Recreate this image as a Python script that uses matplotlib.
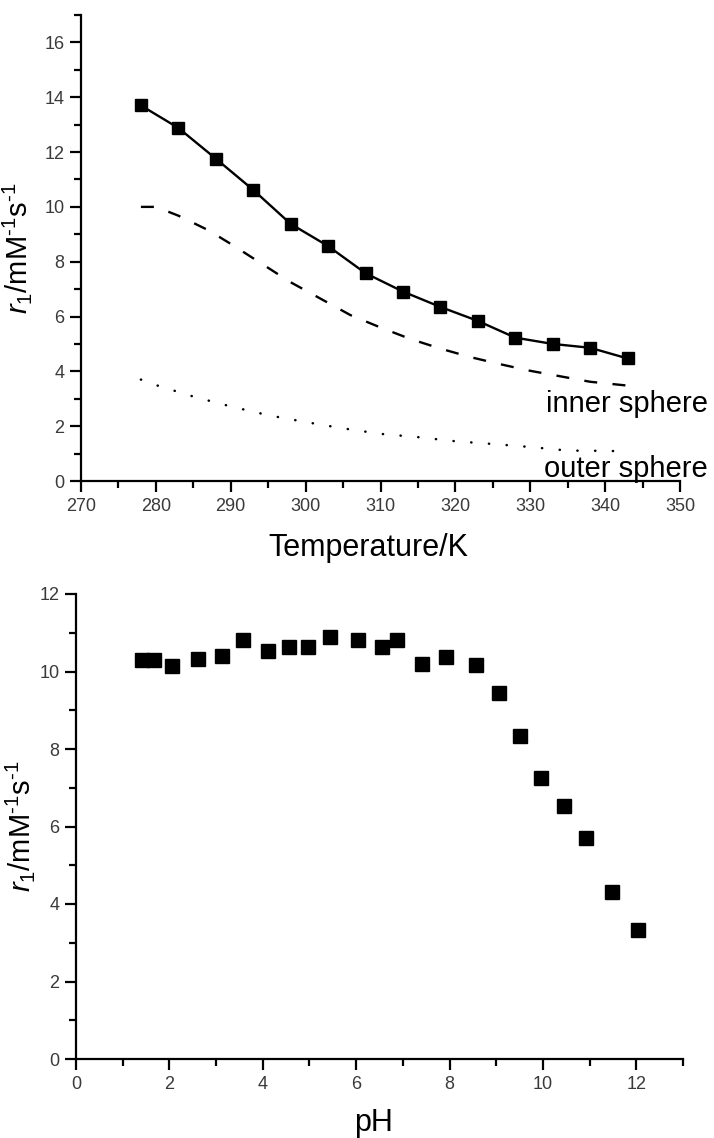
import matplotlib
matplotlib.use("Agg")
import matplotlib.pyplot as plt
from matplotlib.ticker import MultipleLocator

# ---------------- data ----------------
temp_K = [278, 283, 288, 293, 298, 303, 308, 313, 318, 323, 328, 333, 338, 343]
r1_total = [13.7, 12.88, 11.76, 10.62, 9.38, 8.57, 7.58, 6.91, 6.35, 5.84, 5.23, 5.0, 4.86, 4.47]

inner_T = [278, 280, 283, 287, 290, 294, 298, 302, 306, 310, 314, 318, 322, 326, 330, 334, 338, 343]
inner_r1 = [10.0, 10.0, 9.68, 9.15, 8.65, 7.95, 7.25, 6.65, 6.05, 5.6, 5.18, 4.83, 4.52, 4.26, 4.02, 3.82, 3.62, 3.48]

outer_T = [278, 280, 285, 290, 295, 300, 305, 310, 315, 320, 325, 330, 335, 340, 343]
outer_r1 = [3.7, 3.5, 3.08, 2.72, 2.4, 2.15, 1.92, 1.72, 1.6, 1.45, 1.35, 1.24, 1.11, 1.1, 1.08]

pH = [1.41, 1.66, 2.05, 2.62, 3.12, 3.57, 4.12, 4.57, 4.96, 5.43, 6.04, 6.55, 6.87,
      7.42, 7.92, 8.57, 9.07, 9.50, 9.95, 10.46, 10.93, 11.47, 12.03]
r1_pH = [10.3, 10.3, 10.14, 10.32, 10.41, 10.81, 10.54, 10.62, 10.62, 10.9, 10.81, 10.62, 10.81,
         10.19, 10.38, 10.17, 9.44, 8.34, 7.24, 6.53, 5.70, 4.30, 3.33]

ylabel_txt = r'$r_1$/mM$^{\text{-}1}$s$^{\text{-}1}$'

# ---------------- style ----------------
plt.rcParams['font.family'] = ['Liberation Sans', 'DejaVu Sans']
plt.rcParams['mathtext.fontset'] = 'custom'
plt.rcParams['mathtext.rm'] = 'Liberation Sans'
plt.rcParams['mathtext.it'] = 'Liberation Sans:italic'
plt.rcParams['mathtext.sf'] = 'Liberation Sans'

tick_col = '#3a3a3a'

fig = plt.figure(figsize=(7.14, 11.38), dpi=100)
ax1 = fig.add_axes([81/714, 1-481/1138, 599/714, 466/1138])
ax2 = fig.add_axes([76/714, 1-1059/1138, 607/714, 465/1138])


def style(ax):
    for s in ['top', 'right']:
        ax.spines[s].set_visible(False)
    for s in ['left', 'bottom']:
        ax.spines[s].set_linewidth(1.6)
        ax.spines[s].set_color('black')
    ax.tick_params(which='major', direction='out', length=8, width=1.6,
                   labelsize=13, labelcolor=tick_col, pad=4)
    ax.tick_params(which='minor', direction='out', length=5, width=1.6)


# ---------------- top ----------------
ax1.plot(temp_K, r1_total, color='black', lw=1.7, marker='s', ms=8.7,
         mfc='black', mec='black', clip_on=False, zorder=3)
ax1.plot(inner_T, inner_r1, color='black', lw=1.7, linestyle=(0, (5.5, 6.5)))
ax1.plot(outer_T, outer_r1, color='black', lw=1.8, linestyle=(0, (0.1, 7)),
         dash_capstyle='round')
ax1.set_xlim(270, 350)
ax1.set_ylim(0, 17)
ax1.xaxis.set_major_locator(MultipleLocator(10))
ax1.xaxis.set_minor_locator(MultipleLocator(5))
ax1.yaxis.set_major_locator(MultipleLocator(2))
ax1.yaxis.set_minor_locator(MultipleLocator(1))
style(ax1)
ax1.set_xlabel('Temperature/K', fontsize=22)
ax1.xaxis.set_label_coords(0.48, -0.112)
ax1.set_ylabel(ylabel_txt, fontsize=21)
ax1.yaxis.set_label_coords(-0.078, 0.5)
ax1.text(353.7, 2.53, 'inner sphere', fontsize=21, ha='right', va='baseline', clip_on=False)
ax1.text(353.7, 0.15, 'outer sphere', fontsize=21, ha='right', va='baseline', clip_on=False)

# ---------------- bottom ----------------
ax2.plot(pH, r1_pH, linestyle='none', marker='s', ms=10, mfc='black', mec='black')
ax2.set_xlim(0, 13)
ax2.set_ylim(0, 12)
ax2.xaxis.set_major_locator(MultipleLocator(2))
ax2.xaxis.set_minor_locator(MultipleLocator(1))
ax2.yaxis.set_major_locator(MultipleLocator(2))
ax2.yaxis.set_minor_locator(MultipleLocator(1))
style(ax2)
ax2.set_xlabel('pH', fontsize=22)
ax2.xaxis.set_label_coords(0.49, -0.105)
ax2.set_ylabel(ylabel_txt, fontsize=21)
ax2.yaxis.set_label_coords(-0.065, 0.5)

fig.savefig('out.png', dpi=100)
